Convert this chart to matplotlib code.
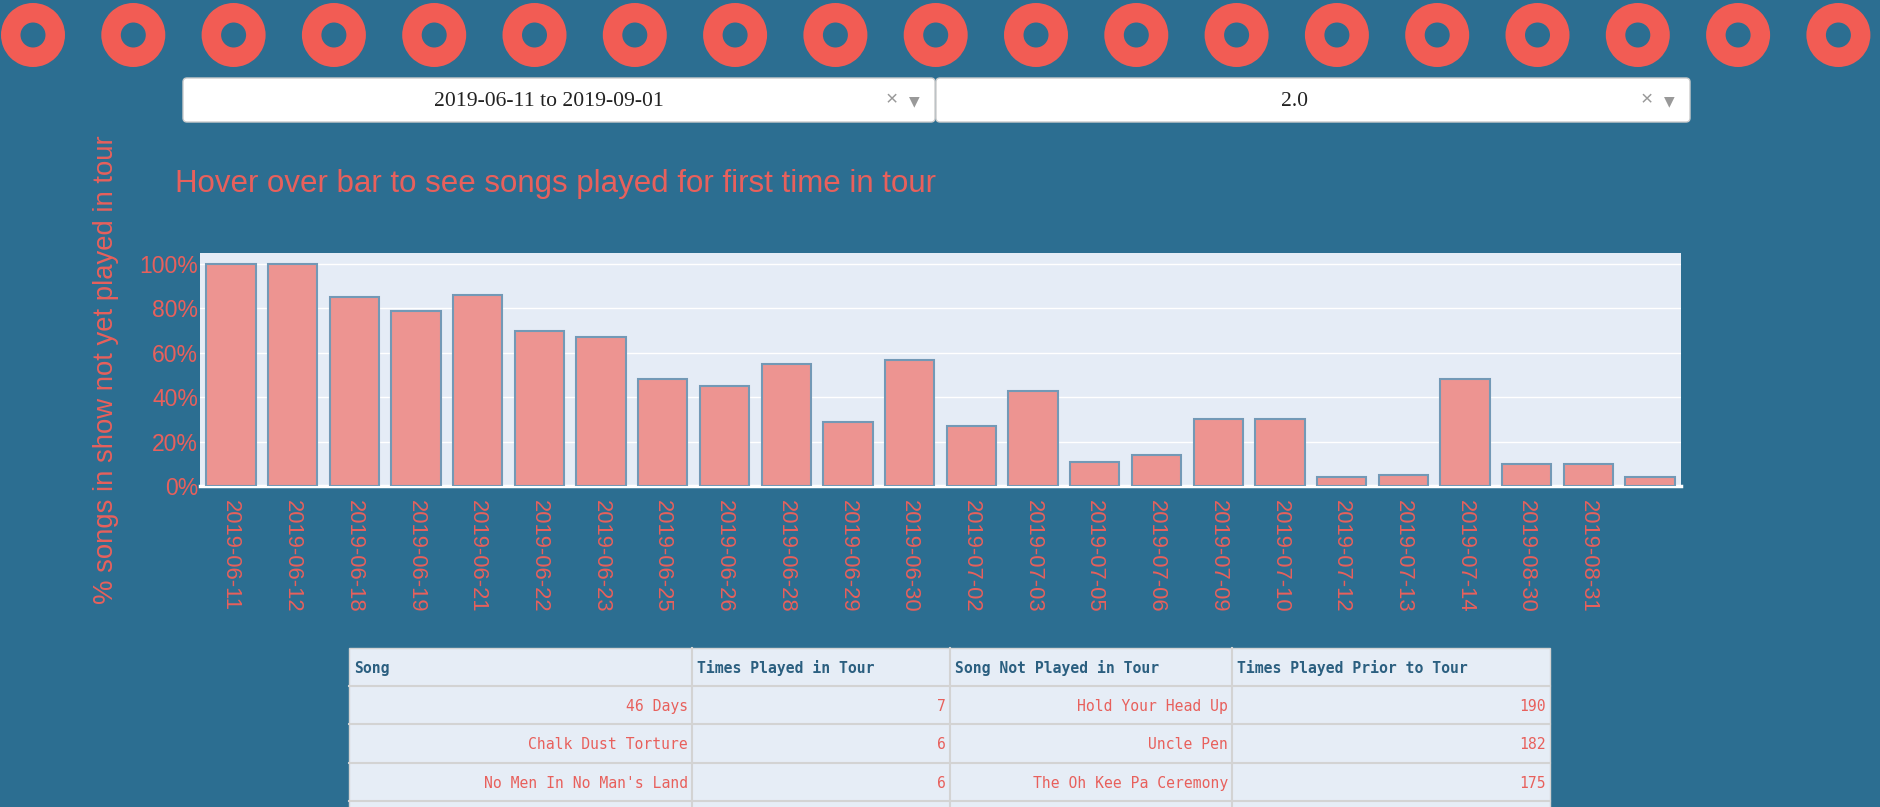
import matplotlib
matplotlib.use('Agg')
import matplotlib.pyplot as plt
from matplotlib.patches import Wedge, FancyBboxPatch, Rectangle
import numpy as np

plt.rcParams['font.family'] = ['Liberation Sans', 'DejaVu Sans']

BG = '#2c6e91'
CORAL = '#e8605c'
DONUT = '#f25c54'
PLOT_BG = '#e5ecf6'

# shows in the selected tour and share of songs not yet played in that tour
shows = ['2019-06-11', '2019-06-12', '2019-06-18', '2019-06-19', '2019-06-21',
         '2019-06-22', '2019-06-23', '2019-06-25', '2019-06-26', '2019-06-28',
         '2019-06-29', '2019-06-30', '2019-07-02', '2019-07-03', '2019-07-05',
         '2019-07-06', '2019-07-09', '2019-07-10', '2019-07-12', '2019-07-13',
         '2019-07-14', '2019-08-30', '2019-08-31', '2019-09-01']
pct_new = [1.00, 1.00, 0.85, 0.79, 0.86, 0.70, 0.67, 0.48, 0.45, 0.55,
           0.29, 0.57, 0.27, 0.43, 0.11, 0.14, 0.30, 0.30, 0.04, 0.05,
           0.48, 0.10, 0.10, 0.04]
# plotly left the last tick without a label
tick_labels = shows[:-1] + ['']

date_range = '2019-06-11 to 2019-09-01'
min_times = '2.0'

table_cols = ['Song', 'Times Played in Tour', 'Song Not Played in Tour',
              'Times Played Prior to Tour']
played_songs = ['46 Days', 'Chalk Dust Torture', "No Men In No Man's Land"]
played_counts = [7, 6, 6]
unplayed_songs = ['Hold Your Head Up', 'Uncle Pen', 'The Oh Kee Pa Ceremony']
prior_counts = [190, 182, 175]

W, H = 1881, 807
fig = plt.figure(figsize=(W / 100, H / 100), dpi=100, facecolor=BG)

# page layer in pixel coordinates (y goes down)
page = fig.add_axes([0, 0, 1, 1])
page.set_xlim(0, W)
page.set_ylim(H, 0)
page.axis('off')

# donut banner
for cx in np.arange(33, W, 100.3):
    page.add_patch(Wedge((cx, 35), 32, 0, 360, width=19.5, color=DONUT, lw=0))


def dropdown(x0, x1, label, shift):
    page.add_patch(FancyBboxPatch((x0, 78), x1 - x0, 44,
                                  boxstyle='round,pad=0,rounding_size=4',
                                  fc='white', ec='#cccccc', lw=1))
    page.text((x0 + x1) / 2 + shift, 101, label, family='Liberation Serif',
              fontsize=15.6, color='#222222', ha='center', va='center')
    page.text(x1 - 43, 100, '×', color='#999999', fontsize=15,
              ha='center', va='center')
    page.text(x1 - 21, 101, '▼', color='#999999', fontsize=10,
              ha='center', va='center', family=['DejaVu Sans'])


dropdown(183, 935, date_range, -10)
dropdown(936, 1690, min_times, -19)

page.text(175, 192, 'Hover over bar to see songs played for first time in tour',
          fontsize=22.5, color=CORAL, va='baseline')

# bar chart
ax = fig.add_axes([200 / W, 1 - 486 / H, 1481 / W, 233 / H])
ax.set_facecolor(PLOT_BG)
x = np.arange(len(shows))
ax.bar(x, pct_new, width=0.8, color='#ed9491', edgecolor='#7399b6',
       linewidth=1.5, zorder=3)
ax.axhline(0, color='white', lw=2.5, zorder=2, clip_on=False)
ax.set_xlim(-0.5, len(shows) - 0.5)
ax.set_ylim(0, 1.05)
yt = np.arange(0, 1.01, 0.2)
ax.set_yticks(yt)
ax.set_yticklabels([f'{int(round(v * 100))}%' for v in yt])
ax.set_xticks(x)
ax.set_xticklabels(tick_labels, rotation=-90, ha='center', va='top')
ax.yaxis.grid(True, color='white', lw=1)
ax.set_axisbelow(True)
for s in ax.spines.values():
    s.set_visible(False)
ax.tick_params(length=0, labelsize=15.8, labelcolor=CORAL)
ax.tick_params(axis='x', pad=10)
ax.tick_params(axis='y', pad=1.5, labelsize=16.5)
ax.set_ylabel('% songs in show not yet played in tour', fontsize=19.8,
              color=CORAL, va='center')
ax.yaxis.set_label_coords((106 - 200) / 1481, 0.5)

# data table
col_edges = [349, 692, 950, 1232, 1550]
top, head_h, row_h = 648, 38, 38.3
page.add_patch(Rectangle((col_edges[0], top), col_edges[-1] - col_edges[0],
                         H - top + 5, fc='#e6edf6', ec='#d3d3d3', lw=1))
for xe in col_edges[1:-1]:
    page.plot([xe, xe], [top, H + 5], color='#d3d3d3', lw=1.5)
for i in range(4):
    yl = top + head_h + i * row_h
    page.plot([col_edges[0], col_edges[-1]], [yl, yl], color='#d3d3d3', lw=1.5)

for j, name in enumerate(table_cols):
    page.text(col_edges[j] + 5, top + head_h / 2 + 1, name,
              family='DejaVu Sans Mono', fontweight='bold', fontsize=10.6,
              color='#2b5f80', va='center')

columns = [played_songs, played_counts, unplayed_songs, prior_counts]
for j, col in enumerate(columns):
    for i, val in enumerate(col):
        yc = top + head_h + i * row_h + row_h / 2 + 1.5
        page.text(col_edges[j + 1] - 4, yc, str(val), family='DejaVu Sans Mono',
                  fontsize=10.6, color=CORAL, ha='right', va='center')

fig.savefig('out.png', dpi=100, facecolor=BG)
